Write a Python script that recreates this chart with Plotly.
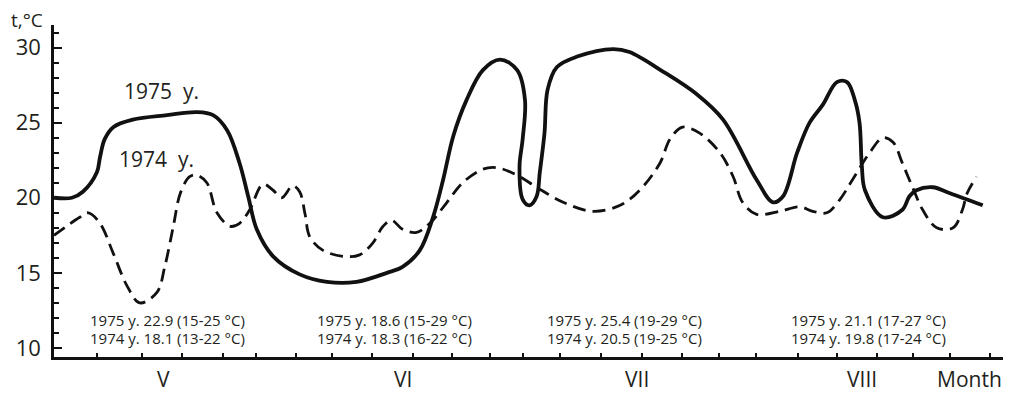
import plotly.graph_objects as go

# x in days from 1 May (pentad ticks), y in °C
day_1975 = [0, 2.3, 3.7, 5.5, 5.9, 6.5, 7.6, 10.1, 14.5, 18.3, 20.4, 22.2, 23.8, 24.9, 26.0, 28.1,
            31.5, 35.0, 38.8, 42.7, 44.7, 46.9, 48.6, 49.9, 51.2, 52.9, 55.0, 57.2, 59.4, 60.4,
            60.1, 59.7, 60.1, 61.0, 61.9, 62.3, 62.9, 63.3, 64.5, 67.1, 71.7, 73.8, 78.1, 82.4,
            85.8, 90.1, 92.2, 93.5, 95.3, 96.9, 98.6, 100.4, 101.7, 102.7, 103.3, 103.6, 104.0,
            106.3, 108.8, 109.7, 110.6, 112.7, 114.9, 119.1]
t_1975 = [20.0, 20.0, 20.4, 21.7, 22.7, 23.9, 24.7, 25.2, 25.5, 25.7, 25.5, 24.5, 22.3, 20.1, 17.9, 16.1,
          14.9, 14.4, 14.4, 15.0, 15.4, 16.5, 18.7, 21.2, 24.1, 26.5, 28.5, 29.2, 28.5, 26.5,
          23.9, 22.1, 19.9, 19.5, 20.1, 21.7, 24.3, 27.2, 28.7, 29.4, 29.9, 29.7, 28.4, 26.9,
          25.2, 21.2, 19.7, 20.1, 23.0, 25.0, 26.2, 27.7, 27.7, 26.5, 25.0, 22.1, 20.5,
          18.7, 19.2, 20.1, 20.5, 20.7, 20.3, 19.5]

day_1974 = [0, 3.3, 4.4, 5.9, 7.6, 9.4, 11.0, 13.2, 14.2, 15.3, 16.2, 17.4, 18.3, 19.6, 20.9, 22.6,
            23.8, 25.1, 26.8, 28.1, 29.2, 30.6, 31.5, 32.2, 32.8, 34.5, 37.1, 39.2, 40.9, 42.2,
            43.3, 44.7, 46.5, 48.2, 50.4, 52.4, 55.0, 56.8, 59.4, 61.9, 65.3, 69.1, 72.6, 75.1,
            77.7, 79.0, 80.6, 82.8, 85.4, 87.1, 88.3, 90.1, 93.1, 95.6, 97.3, 99.1, 100.8, 102.4,
            104.6, 106.3, 107.6, 108.8, 110.1, 111.4, 113.2, 115.3, 116.5, 117.1, 118.3]
t_1974 = [17.5, 18.7, 19.0, 18.3, 16.3, 14.1, 13.0, 13.7, 15.4, 18.1, 20.3, 21.4, 21.5, 21.0, 19.0, 18.1,
          18.3, 19.2, 20.9, 20.5, 20.0, 20.8, 20.4, 18.9, 17.4, 16.5, 16.1, 16.2, 17.0, 18.1,
          18.5, 17.9, 17.7, 18.3, 19.7, 21.0, 21.9, 22.0, 21.5, 20.7, 19.7, 19.1, 19.5, 20.5,
          22.3, 23.9, 24.7, 24.3, 23.0, 21.4, 19.7, 18.9, 19.1, 19.4, 19.1, 19.0, 19.9, 21.2,
          23.0, 24.0, 23.7, 22.3, 20.7, 19.2, 18.0, 18.0, 19.2, 20.3, 21.4]

pentad_ticks = [5.5, 11.3, 16.4, 21.7, 25.9, 31.0, 35.6, 40.8, 46.0, 51.0, 55.9, 60.1,
                64.9, 70.1, 75.4, 80.5, 85.3, 90.0, 95.4, 100.4, 105.5, 110.1, 114.9, 120.0]

month_labels = ["V", "VI", "VII", "VIII", "Month"]
month_pos = [14.0, 44.7, 74.7, 103.6, 117.4]

stat_pos = [14.5, 43.7, 73.2, 104.4]
stat_1975 = ["1975 y. 22.9 (15-25 °C)", "1975 y. 18.6 (15-29 °C)",
             "1975 y. 25.4 (19-29 °C)", "1975 y. 21.1 (17-27 °C)"]
stat_1974 = ["1974 y. 18.1 (13-22 °C)", "1974 y. 18.3 (16-22 °C)",
             "1974 y. 20.5 (19-25 °C)", "1974 y. 19.8 (17-24 °C)"]

TXT = "#231f20"
FONT = "Open Sans"
XR = [0, 121.7]
YR = [9.4, 31.5]

fig = go.Figure()
fig.add_trace(go.Scatter(x=day_1974, y=t_1974, mode="lines",
                         line=dict(color="#111", width=2.8, dash="13px,7px", shape="spline", smoothing=1.0),
                         hoverinfo="skip", showlegend=False, cliponaxis=False))
fig.add_trace(go.Scatter(x=day_1975, y=t_1975, mode="lines",
                         line=dict(color="#111", width=3.8, shape="spline", smoothing=1.0),
                         hoverinfo="skip", showlegend=False, cliponaxis=False))

ann = []
for p, lab in zip(month_pos, month_labels):
    ann.append(dict(x=p, y=-0.1135, xref="x", yref="paper", text=lab, showarrow=False,
                    xanchor="center", yanchor="bottom",
                    font=dict(size=21, color=TXT, family=FONT)))
for p, a, b in zip(stat_pos, stat_1975, stat_1974):
    ann.append(dict(x=p, y=11.87, xref="x", yref="y", text=a, showarrow=False,
                    xanchor="center", yanchor="middle",
                    font=dict(size=15, color=TXT, family=FONT)))
    ann.append(dict(x=p, y=10.67, xref="x", yref="y", text=b, showarrow=False,
                    xanchor="center", yanchor="middle",
                    font=dict(size=15, color=TXT, family=FONT)))
ann.append(dict(x=13.8, y=27.1, xref="x", yref="y", text="1975  y.", showarrow=False,
                xanchor="center", yanchor="middle",
                font=dict(size=21, color=TXT, family=FONT)))
ann.append(dict(x=13.2, y=22.6, xref="x", yref="y", text="1974  y.", showarrow=False,
                xanchor="center", yanchor="middle",
                font=dict(size=21, color=TXT, family=FONT)))
ann.append(dict(x=-0.0285, y=1.015, xref="paper", yref="paper", text="t,°C", showarrow=False,
                xanchor="center", yanchor="middle",
                font=dict(size=19, color=TXT, family=FONT)))

fig.update_layout(
    width=1013, height=396,
    margin=dict(l=54, r=10, t=25, b=39),
    paper_bgcolor="white", plot_bgcolor="white",
    annotations=ann,
    xaxis=dict(range=XR, showgrid=False, zeroline=False, showline=True, linecolor="#111",
               linewidth=2.5, tickmode="array", tickvals=pentad_ticks, ticks="inside",
               ticklen=4, tickwidth=2, tickcolor="#111", showticklabels=False),
    xaxis2=dict(range=XR, overlaying="x", anchor="y", side="bottom", showgrid=False,
                zeroline=False, showline=False, tickmode="array", tickvals=pentad_ticks,
                ticks="outside", ticklen=4, tickwidth=2, tickcolor="#111", showticklabels=False),
    yaxis=dict(range=YR, showgrid=False, zeroline=False, showline=True, linecolor="#111",
               linewidth=2.5, tickmode="linear", tick0=10, dtick=5, ticks="inside",
               ticklen=8, tickwidth=2, tickcolor="#111", ticklabelstandoff=6,
               tickfont=dict(size=22, color=TXT, family=FONT),
               minor=dict(dtick=1, tick0=0, ticks="inside", ticklen=5, tickwidth=1.5, tickcolor="#111")),
)

fig.write_html("out.html")
